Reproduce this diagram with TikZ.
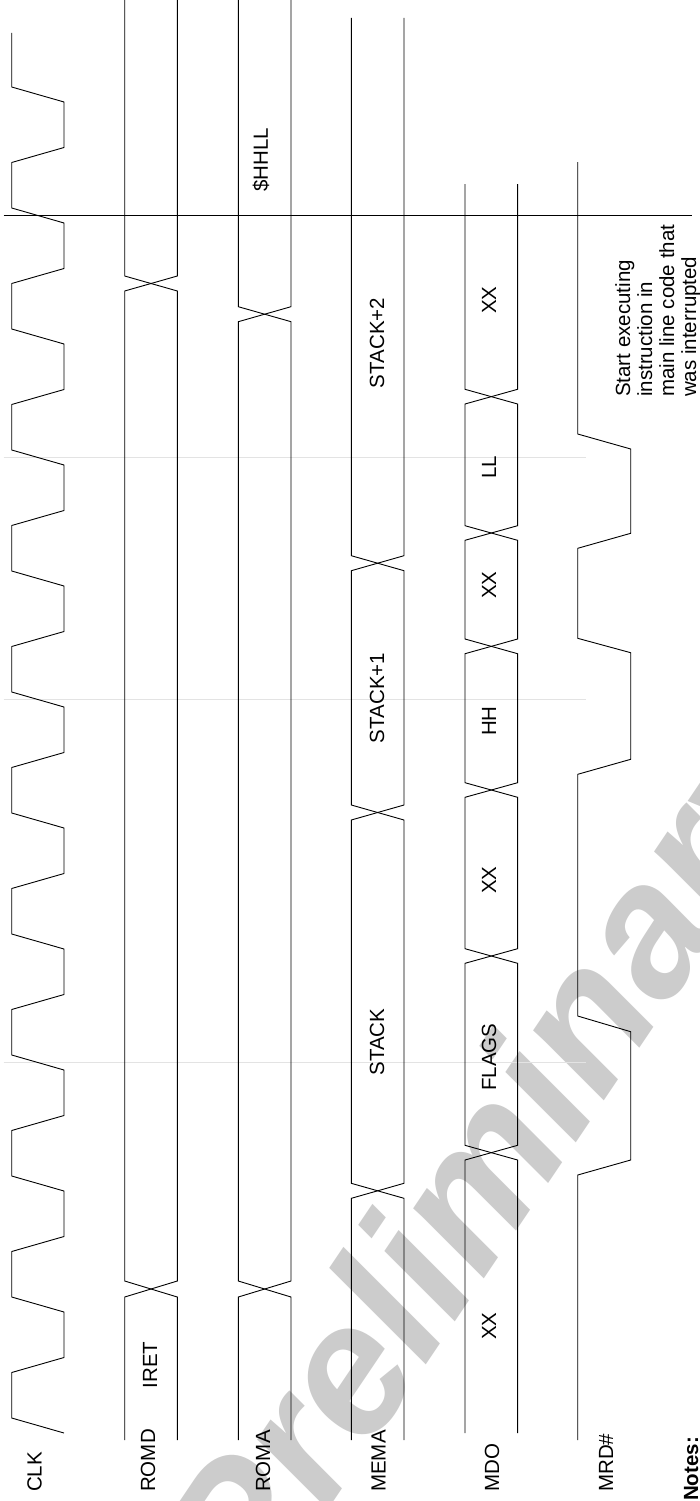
\documentclass[tikz,border=0pt]{standalone}
\usepackage{fontspec}
\setmainfont{Liberation Sans}
\begin{document}
\begin{tikzpicture}[x=1pt,y=-1pt,
  sig/.style={line width=0.9pt, line join=miter},
  guide/.style={gray!22, line width=0.8pt},
  lbl/.style={font=\fontsize{20.5}{22}\selectfont, rotate=90, inner sep=0pt},
  sname/.style={lbl, anchor=base west}]
\useasboundingbox (0,0) rectangle (699,1501);
\fill[white] (0,0) rectangle (699,1501);
% watermark
\begin{scope}
\clip (0,0) rectangle (699,1501);
\node[rotate=56, text=gray!40, inner sep=0pt, font=\fontsize{185}{185}\selectfont\bfseries\itshape] (wm) at (500,1170) {Preliminary};
\end{scope}
% faint guide lines
\draw[guide] (3.5,457.3) -- (586,457.3);
\draw[guide] (3.5,699) -- (586,699);
\draw[guide] (3.5,1062) -- (586,1062);
% marker line
\draw[sig] (3.5,215.7) -- (692,215.7);
% CLK
\draw[sig] (11.7,33) \foreach \c in {0,...,10}{ -- (11.7,{87+121*\c}) -- (64,{102+121*\c}) -- (64,{147.5+121*\c}) -- (11.7,{162.5+121*\c}) } -- (11.7,1418) -- (64,1433);
% ROMD
\draw[sig] (124.7,0) -- (124.7,276) -- (177.3,291) -- (177.3,1281) -- (124.7,1297) -- (124.7,1440);
\draw[sig] (177.3,0) -- (177.3,276) -- (124.7,291) -- (124.7,1281) -- (177.3,1297) -- (177.3,1440);
% ROMA
\draw[sig] (238.3,0) -- (238.3,306.7) -- (291,321.7) -- (291,1281) -- (238.3,1297) -- (238.3,1440);
\draw[sig] (291,0) -- (291,306.7) -- (238.3,321.7) -- (238.3,1281) -- (291,1297) -- (291,1440);
% MEMA
\draw[sig] (351.3,18) -- (351.3,555.7) -- (404,570.7) -- (404,805) -- (351.3,820) -- (351.3,1183.3) -- (404,1198.3) -- (404,1440);
\draw[sig] (404,18) -- (404,555.7) -- (351.3,570.7) -- (351.3,805) -- (404,820) -- (404,1183.3) -- (351.3,1198.3) -- (351.3,1440);
% MDO
\draw[sig] (465,184) -- (465,389.3) -- (517.6,404) -- (517.6,525.7) -- (465,540.3) -- (465,639) -- (517.6,653.7) -- (517.6,782.7) -- (465,797.3) -- (465,948.7) -- (517.6,963.3) -- (517.6,1145.3) -- (465,1160) -- (465,1433);
\draw[sig] (517.6,184) -- (517.6,389.3) -- (465,404) -- (465,525.7) -- (517.6,540.3) -- (517.6,639) -- (465,653.7) -- (465,782.7) -- (517.6,797.3) -- (517.6,948.7) -- (465,963.3) -- (465,1145.3) -- (517.6,1160) -- (517.6,1433);
% MRD#
\draw[sig] (577.7,162) -- (577.7,434) -- (630.7,449) -- (630.7,533.3) -- (577.7,548.3) -- (577.7,638.3) -- (630.7,652.7) -- (630.7,759.3) -- (577.7,774.3) -- (577.7,1016) -- (630.7,1031.7) -- (630.7,1160) -- (577.7,1175) -- (577.7,1440);
% bus values
\node[lbl] (v1) at (261,160) {\$HHLL};
\node[lbl] (v2) at (150,1365) {IRET};
\node[lbl] (v3) at (377,343) {STACK+2};
\node[lbl] (v4) at (377,698) {STACK+1};
\node[lbl] (v5) at (377,1042) {STACK};
\node[lbl] (v6) at (489,300) {XX};
\node[lbl] (v7) at (489,467) {LL};
\node[lbl] (v8) at (489,585) {XX};
\node[lbl] (v9) at (489,721) {HH};
\node[lbl] (v10) at (489,880) {XX};
\node[lbl] (v11) at (489,1057) {FLAGS};
\node[lbl] (v12) at (489,1326) {XX};
% note
\node[lbl, anchor=north west, align=left] (note) at (615,397) {Start executing\\instruction in\\main line code that\\was interrupted};
% signal names
\node[sname] (nclk) at (41.7,1492) {CLK};
\node[sname] (nromd) at (155,1492) {ROMD};
\node[sname] (nroma) at (270,1492) {ROMA};
\node[sname] (nmema) at (385.6,1492) {MEMA};
\node[sname] (nmdo) at (499,1492) {MDO};
\node[sname] (nmrd) at (613,1492) {MRD\#};
\node[sname, font=\fontsize{20.5}{22}\selectfont\bfseries] (nnotes) at (698,1501) {Notes:};
\end{tikzpicture}
\end{document}
